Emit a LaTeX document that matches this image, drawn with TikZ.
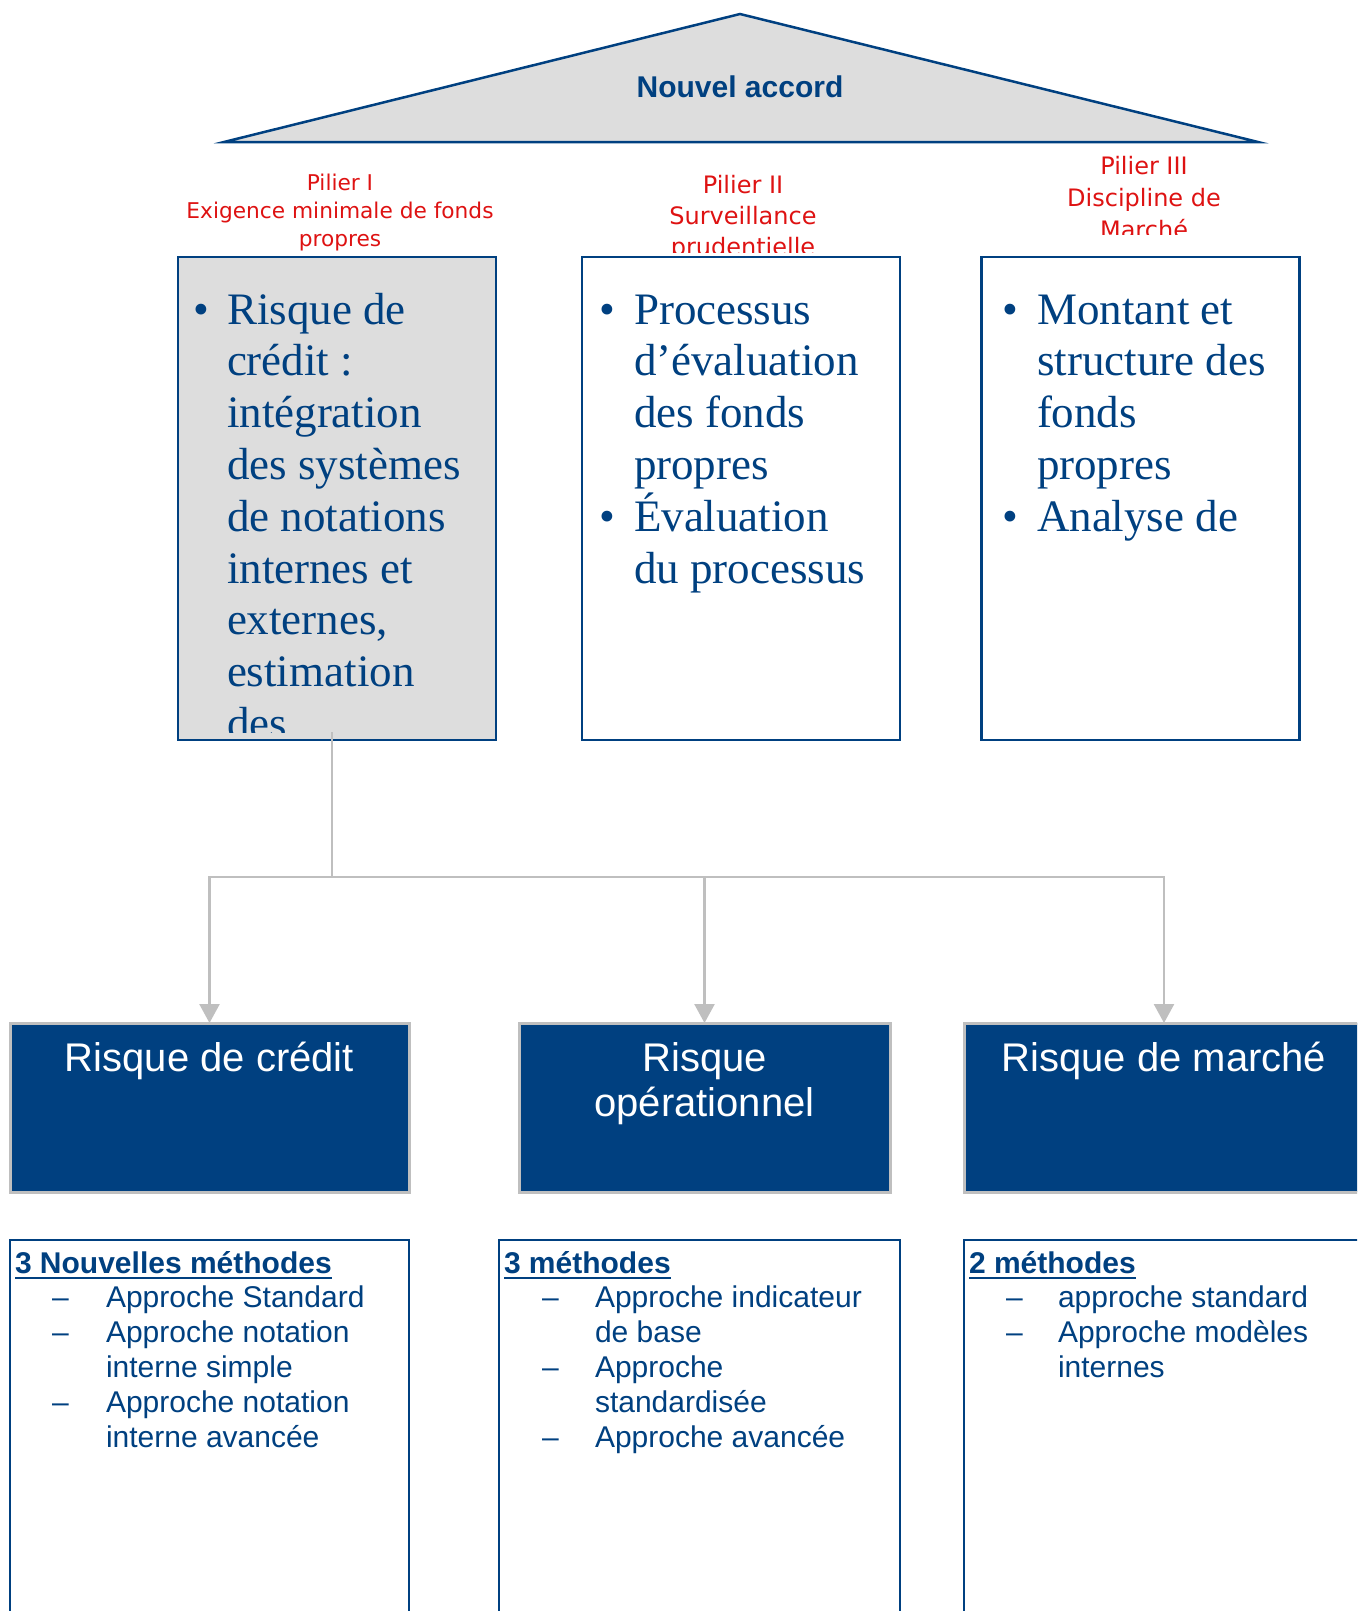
\documentclass[tikz,border=0pt]{standalone}
\usepackage{fontspec}
\setmainfont{Liberation Serif}
\setsansfont{Liberation Sans}
\newfontfamily\pilierfont{DejaVu Sans}
\usetikzlibrary{arrows.meta,positioning}

\definecolor{bleu}{RGB}{0,64,128}
\definecolor{grisclair}{RGB}{221,221,221}
\definecolor{gris}{RGB}{191,191,191}
\definecolor{rouge}{RGB}{222,18,18}

\begin{document}
\begin{tikzpicture}[x=1pt, y=-1pt, >={Triangle[width=20pt,length=19pt]},
                    outer sep=0pt]
    \tikzstyle{pilier}=[draw=bleu, line width=2.5pt, minimum width=318pt,
                        minimum height=483pt, inner sep=0pt]
    \tikzstyle{titre}=[text=rouge, align=center, inner sep=0pt, anchor=base]
    \tikzstyle{texte}=[text=bleu, align=left, inner sep=0pt, anchor=base west,
                       font=\fontsize{45}{51.8}\selectfont]
    \tikzstyle{puce}=[text=bleu, inner sep=0pt, anchor=base,
                      font=\fontsize{45}{51.8}\selectfont]
    \tikzstyle{risque}=[draw=gris, fill=bleu, line width=3pt,
                        minimum width=399pt, minimum height=169pt]
    \tikzstyle{etiquette}=[text=white, align=center, inner sep=0pt, anchor=base,
                           font=\sffamily\fontsize{40}{45}\selectfont]
    \tikzstyle{methodes}=[draw=bleu, line width=2pt, minimum height=400pt,
                          anchor=north west]
    \tikzstyle{entete}=[text=bleu, inner sep=0pt, anchor=base west,
                        font=\sffamily\bfseries\fontsize{30}{35}\selectfont]
    \tikzstyle{approche}=[text=bleu, align=left, inner sep=0pt, anchor=base west,
                          font=\sffamily\fontsize{30}{35}\selectfont]
    \tikzstyle{tiret}=[approche]
    \tikzstyle{lien}=[draw=gris, line width=2.5pt]

    \path[use as bounding box, clip] (0,0) rectangle (1357,1611);

    % le toit
    \draw[fill=grisclair, draw=bleu, line width=2.5pt]
        (224,142) -- (740,14) -- (1258,142) -- cycle;
    \node[text=bleu, anchor=base, font=\sffamily\bfseries\fontsize{30}{34}\selectfont]
        (accord) at (740,97) {Nouvel accord};

    % les trois piliers (base = derniere ligne)
    \node[pilier, fill=grisclair] (p1) at (337,498.5)  {};
    \node[pilier]                 (p2) at (741,498.5)  {};
    \node[pilier]                 (p3) at (1140.5,498.5) {};

    \node[titre, font=\pilierfont\fontsize{21.7}{28}\selectfont]
        (t1) at (340,246) {Pilier I\\Exigence minimale de fonds\\propres};
    \begin{scope}
        \clip (560,150) rectangle (920,252);
        \node[titre, font=\pilierfont\fontsize{24}{30.8}\selectfont]
            (t2) at (743,255) {Pilier II\\Surveillance\\prudentielle};
    \end{scope}
    \begin{scope}
        \clip (960,140) rectangle (1320,234);
        \node[titre, font=\pilierfont\fontsize{24}{32}\selectfont]
            (t3) at (1144,238) {Pilier III\\Discipline de\\Marché};
    \end{scope}

    \begin{scope}
        \clip ([yshift=8pt]p1.south west) rectangle (p1.north east);
        \node[puce]  (b1) at (201,324) {•};
        \node[texte] (x1) at (227,738.4) {Risque de\\crédit :\\intégration\\des systèmes\\de notations\\internes et\\externes,\\estimation\\des};
    \end{scope}
    \node[puce]  (b2) at (607,324)   {•};
    \node[puce]  (b3) at (607,531.2) {•};
    \node[texte] (x2) at (634,583) {Processus\\d’évaluation\\des fonds\\propres\\Évaluation\\du processus};
    \node[puce]  (b4) at (1010,324)   {•};
    \node[puce]  (b5) at (1010,531.2) {•};
    \node[texte] (x3) at (1037,531.2) {Montant et\\structure des\\fonds\\propres\\Analyse de};

    % les liens vers les risques
    \coordinate (tronc) at ([xshift=-5pt,yshift=8pt]p1.south);
    \coordinate (bus) at (332,877);
    \node[risque]                       (rc) at (209.5,1107.5) {};
    \node[risque, minimum width=371pt]  (ro) at (704.5,1107.5) {};
    \node[risque, minimum width=400pt]  (rm) at (1164,1107.5)  {};
    \draw[lien] (tronc) -- (bus);
    \draw[lien, ->] (bus) -| (rc.north);
    \draw[lien, ->] (bus) -| (ro.north);
    \draw[lien, ->] (bus) -| (rm.north);

    \node[etiquette] (lc) at ([yshift=-48pt]rc.north) {Risque de crédit};
    \node[etiquette] (lo) at ([yshift=-93pt]ro.north) {Risque\\opérationnel};
    \node[etiquette] (lm) at ([yshift=-48pt]rm.north) {Risque de marché};

    % les méthodes
    \node[methodes, minimum width=399pt] (mc) at (10,1240)  {};
    \node[methodes, minimum width=401pt] (mo) at (499,1240) {};
    \node[methodes, minimum width=400pt] (mm) at (964,1240) {};

    \node[entete] (ec) at (15,1273)  {3 Nouvelles méthodes};
    \node[entete] (eo) at (504,1273) {3 méthodes};
    \node[entete] (em) at (969,1273) {2 méthodes};
    \foreach \e in {ec,eo,em}
        \draw[bleu, line width=2.5pt] ([yshift=-5pt]\e.base west) -- ([yshift=-5pt]\e.base east);

    \node[approche] (ac) at (106,1447) {Approche Standard\\Approche notation\\interne simple\\Approche notation\\interne avancée};
    \node[approche] (ao) at (595,1447) {Approche indicateur\\de base\\Approche\\standardisée\\Approche avancée};
    \node[approche] (am) at (1058,1377) {approche standard\\Approche modèles\\internes};
    \foreach \y in {1307,1342,1412}
        \node[tiret] at (52,\y) {–};
    \foreach \y in {1307,1377,1447}
        \node[tiret] at (542,\y) {–};
    \foreach \y in {1307,1342}
        \node[tiret] at (1006,\y) {–};
\end{tikzpicture}
\end{document}
